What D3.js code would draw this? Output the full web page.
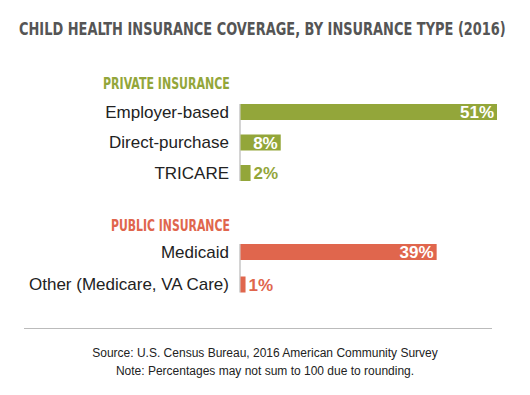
<!DOCTYPE html>
<html>
<head>
<meta charset="utf-8">
<script src="https://cdn.jsdelivr.net/npm/d3@7"></script>
<style>
  body { margin: 0; background: #fff; }
  svg { display: block; }
</style>
</head>
<body>
<div id="chart"></div>
<script>
// Chart data
const privateLabels = ["Employer-based", "Direct-purchase", "TRICARE"];
const privateValues = [51, 8, 2];
const publicLabels = ["Medicaid", "Other (Medicare, VA Care)"];
const publicValues = [39, 1];
const groupTitles = ["PRIVATE INSURANCE", "PUBLIC INSURANCE"];

const width = 530, height = 395;
const narrow = "'DejaVu Sans Condensed', 'DejaVu Sans', sans-serif";
const regular = "'Liberation Sans', Arial, sans-serif";

const groups = [
  {title: groupTitles[0], labels: privateLabels, values: privateValues, color: "#93a63a", top: 83, barTop: 104, step: 30.5, titleW: 127},
  {title: groupTitles[1], labels: publicLabels, values: publicValues, color: "#e0664d", top: 225, barTop: 244, step: 32.5, titleW: 119}
];

const svg = d3.select("#chart").append("svg")
    .attr("width", width)
    .attr("height", height)
    .attr("viewBox", [0, 0, width, height]);

// squeeze a text horizontally so it spans w pixels starting at x
function fitText(sel, x, y, w) {
  const n = sel.node().getComputedTextLength();
  sel.attr("x", 0).attr("y", 0)
     .attr("transform", `translate(${x},${y}) scale(${w / n},1)`);
}

svg.append("text")
    .attr("font-family", narrow)
    .attr("font-weight", "bold")
    .attr("font-size", 17)
    .attr("fill", "#555")
    .text("CHILD HEALTH INSURANCE COVERAGE, BY INSURANCE TYPE (2016)")
    .call(fitText, 19, 35, 487);

const x0 = 240.5;
const x = d3.scaleLinear().domain([0, 51]).range([x0, 497]);
const barH = 16;

groups.forEach(g => {
  const y = d3.scalePoint()
      .domain(g.labels)
      .range([g.barTop, g.barTop + g.step * (g.labels.length - 1)]);
  const gg = svg.append("g");

  gg.append("text")
      .attr("font-family", narrow)
      .attr("font-weight", "bold")
      .attr("font-size", 15)
      .attr("fill", g.color)
      .text(g.title)
      .call(fitText, 230 - g.titleW, g.top + 5.5, g.titleW);

  // axis line
  gg.append("line")
      .attr("x1", x0 - 0.5).attr("x2", x0 - 0.5)
      .attr("y1", g.barTop)
      .attr("y2", y(g.labels[g.labels.length - 1]) + barH)
      .attr("stroke", "#d4d4d4")
      .attr("stroke-width", 2);

  const rows = gg.selectAll("g.row")
    .data(g.labels.map((l, i) => ({label: l, value: g.values[i]})))
    .join("g")
      .attr("class", "row");

  rows.append("rect")
      .attr("x", x(0))
      .attr("y", d => y(d.label))
      .attr("width", d => x(d.value) - x(0))
      .attr("height", barH)
      .attr("fill", g.color);

  rows.append("text")
      .attr("x", 229)
      .attr("y", d => y(d.label) + barH / 2)
      .attr("dy", "0.35em")
      .attr("text-anchor", "end")
      .attr("font-family", regular)
      .attr("font-size", 17)
      .attr("fill", "#222")
      .text(d => d.label);

  rows.append("text")
      .attr("x", d => d.value >= 5 ? x(d.value) - 3 : x(d.value) + 3)
      .attr("y", d => y(d.label) + barH / 2)
      .attr("dy", "0.36em")
      .attr("text-anchor", d => d.value >= 5 ? "end" : "start")
      .attr("font-family", regular)
      .attr("font-weight", "bold")
      .attr("font-size", 17)
      .attr("fill", d => d.value >= 5 ? "#fff" : g.color)
      .text(d => d.value + "%");
});

svg.append("line")
    .attr("x1", 24).attr("x2", 492)
    .attr("y1", 328.5).attr("y2", 328.5)
    .attr("stroke", "#bbb")
    .attr("stroke-width", 1);

const notes = ["Source: U.S. Census Bureau, 2016 American Community Survey",
               "Note: Percentages may not sum to 100 due to rounding."];
svg.selectAll("text.note")
  .data(notes)
  .join("text")
    .attr("class", "note")
    .attr("x", width / 2)
    .attr("y", (d, i) => 357 + i * 18)
    .attr("text-anchor", "middle")
    .attr("font-family", regular)
    .attr("font-size", 12)
    .attr("fill", "#222")
    .text(d => d);
</script>
</body>
</html>
